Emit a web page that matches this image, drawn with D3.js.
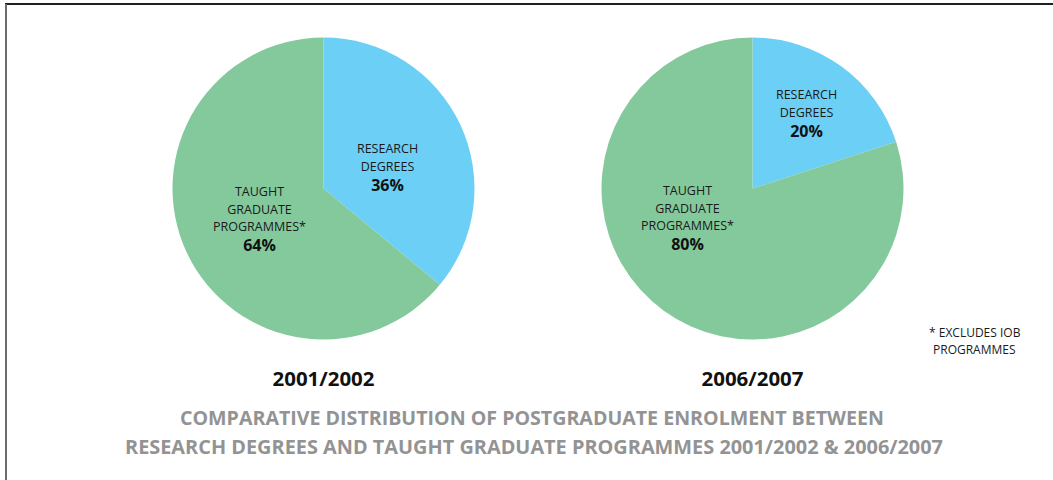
<!DOCTYPE html>
<html>
<head>
<meta charset="utf-8">
<script src="https://cdn.jsdelivr.net/npm/d3@7"></script>
<style>
html, body { margin: 0; padding: 0; background: #fff; }
svg { display: block; }
</style>
</head>
<body>
<script>
// данные
var years = ["2001/2002", "2006/2007"];
var categories = ["RESEARCH DEGREES", "TAUGHT GRADUATE PROGRAMMES*"];
var labelLines = [["RESEARCH", "DEGREES"], ["TAUGHT", "GRADUATE", "PROGRAMMES*"]];
var shares2001 = [36, 64];
var shares2006 = [20, 80];
var footnote = ["* EXCLUDES IOB", "PROGRAMMES"];
var titleLines = ["COMPARATIVE DISTRIBUTION OF POSTGRADUATE ENROLMENT BETWEEN",
                  "RESEARCH DEGREES AND TAUGHT GRADUATE PROGRAMMES 2001/2002 & 2006/2007"];

var W = 1053, H = 480;
var colors = d3.scaleOrdinal().domain(categories).range(["#6ccff6", "#84c99c"]);

var svg = d3.select("body").append("svg").attr("width", W).attr("height", H);

// рамка
svg.append("line").attr("x1", 5).attr("x2", W).attr("y1", 4).attr("y2", 4)
	.attr("stroke", "#231f20").attr("stroke-width", 2);
svg.append("line").attr("x1", 6).attr("x2", 6).attr("y1", 4).attr("y2", H)
	.attr("stroke", "#6d6d6d").attr("stroke-width", 2);

var pies = [
	{ year: years[0], values: shares2001, cx: 323.5, cy: 188.5,
	  lab: [[64, -35.5], [-64, 7.5]] },
	{ year: years[1], values: shares2006, cx: 752.5, cy: 188.5,
	  lab: [[54, -89.5], [-65, 6.5]] }
];
var R = 151;
var lineStep = 17.5, pctGap = 20;
var pie = d3.pie().sort(null).value(function(d) { return d.v; });
var arc = d3.arc().innerRadius(0).outerRadius(R);

pies.forEach(function(p) {
	var g = svg.append("g").attr("transform", "translate(" + p.cx + "," + p.cy + ")");
	var rows = p.values.map(function(v, i) { return { v: v, cat: categories[i], lines: labelLines[i] }; });
	g.selectAll("path").data(pie(rows)).enter().append("path")
		.attr("d", arc)
		.attr("fill", function(d) { return colors(d.data.cat); });

	rows.forEach(function(r, i) {
		var t = g.append("g").attr("transform", "translate(" + p.lab[i][0] + "," + p.lab[i][1] + ")");
		r.lines.forEach(function(s, k) {
			t.append("text").attr("x", 0).attr("y", k * lineStep)
				.attr("text-anchor", "middle")
				.style("font-family", "'Open Sans', sans-serif")
				.style("font-size", "12.5px")
				.style("fill", "#1a1a1a")
				.text(s);
		});
		t.append("text").attr("x", 0).attr("y", (r.lines.length - 1) * lineStep + pctGap)
			.attr("text-anchor", "middle")
			.style("font-family", "'Open Sans', sans-serif")
			.style("font-weight", "bold")
			.style("font-size", "16px")
			.style("fill", "#111")
			.text(r.v + "%");
	});

	svg.append("text").attr("x", p.cx).attr("y", 386)
		.attr("text-anchor", "middle")
		.style("font-family", "'Open Sans', sans-serif")
		.style("font-weight", "bold")
		.style("font-size", "19px")
		.attr("textLength", 102).attr("lengthAdjust", "spacingAndGlyphs")
		.style("fill", "#111")
		.text(p.year);
});

// сноска
footnote.forEach(function(s, k) {
	svg.append("text").attr("x", k ? 933 : 929).attr("y", 337 + k * 17)
		.style("font-family", "'Open Sans', sans-serif")
		.style("font-size", "12px")
		.style("fill", "#1a1a1a")
		.text(s);
});

// заголовок
var tl = [[532, 425, 704], [534, 454, 818]];
titleLines.forEach(function(s, k) {
	svg.append("text").attr("x", tl[k][0]).attr("y", tl[k][1])
		.attr("text-anchor", "middle")
		.attr("textLength", tl[k][2]).attr("lengthAdjust", "spacingAndGlyphs")
		.style("font-family", "'Open Sans', sans-serif")
		.style("font-weight", "bold")
		.style("font-size", "19.5px")
		.style("fill", "#939393")
		.text(s);
});
</script>
</body>
</html>
